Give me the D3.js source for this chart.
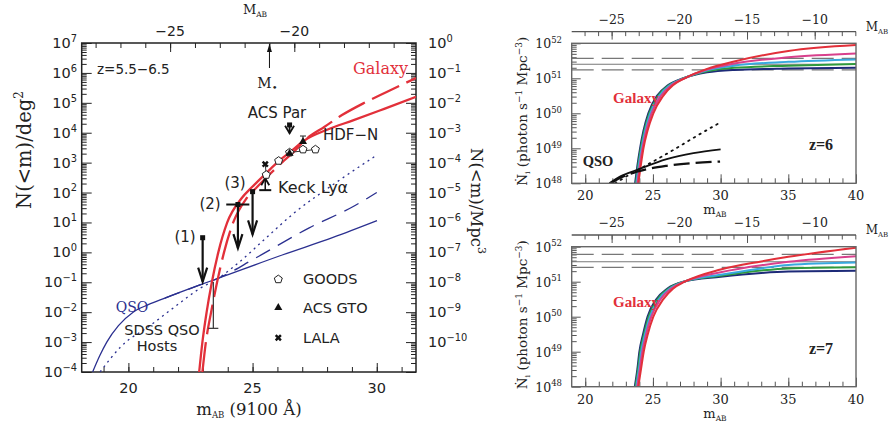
<!DOCTYPE html>
<html>
<head>
<meta charset="utf-8">
<script src="https://cdn.jsdelivr.net/npm/d3@7"></script>
<style>
body { margin: 0; background: #fff; }
text { font-family: "DejaVu Sans", Arial, sans-serif; fill: #222; }
.serif { font-family: "DejaVu Serif", "Liberation Serif", serif; }
.bold { font-family: "Liberation Serif", "Times New Roman", serif; font-weight: bold; }
</style>
</head>
<body>
<div id="chart"></div>
<script>
// ---------- left panel: cumulative counts, [m_AB, log10 N(<m)/deg^2]
var galaxySolid = [[22.85,-4],[22.98,-3],[23.15,-2],[23.36,-1],[23.62,0],[23.98,1],[24.55,1.8],[25.0,2.2],[25.55,2.65],[26.05,3.05],[26.5,3.35],[27.1,3.75],[28.0,4.1],[29.07,4.42],[30.3,4.8],[31.58,5.2]];
var galaxyDashed = [[22.98,-4],[23.12,-3],[23.33,-2],[23.57,-1],[23.85,0],[24.22,1],[24.75,1.8],[25.2,2.2],[25.7,2.62],[26.2,3.02],[26.65,3.35],[27.15,3.78],[27.9,4.2],[28.6,4.59],[29.5,5.0],[30.42,5.37],[31.58,5.83]];
var qsoSolid = [[18.56,-4],[18.85,-3.45],[19.13,-3.0],[19.6,-2.45],[20.19,-2.0],[20.8,-1.75],[21.47,-1.53],[22.88,-1.09],[23.61,-0.87],[26.22,-0.08],[28.24,0.5],[30.01,1.06]];
var qsoDashed = [[21.47,-1.53],[22.88,-1.09],[23.61,-0.87],[25.1,-0.2],[27.28,0.82],[29.09,1.55],[30.0,2.0]];
var qsoDotted = [[18.86,-4],[19.7,-3.15],[20.87,-2.45],[21.9,-1.8],[22.89,-1.2],[23.61,-0.87],[24.5,-0.3],[25.5,0.45],[26.65,1.3],[28.3,2.3],[30.0,3.25]];

var goods = [[25.55,2.59],[26.05,3.06],[26.49,3.34],[27.03,3.44],[27.53,3.44]];
var acsGto = [[26.49,3.31],[27.03,3.70]];
var acsGtoErrTop = 3.89;
var lala = [[25.51,2.95]];
// upper limits: m, start, arrow tip (log N)
var upperLimits = [[22.99,0.49,-0.98],[24.41,1.6,0.14],[25.0,2.03,0.6],[26.49,4.26,3.98]];
var limit2Bar = [23.94,24.87,1.6];
var keckLower = [25.51,2.08,2.48];
var sdssHost = [23.42,-0.99,-2.54];
var mStar = -21.0;
var distModLeft = 46.68;

// ---------- right panels: [m_AB, log10 Ndot_i]
var z6Navy = [[23.68,48],[23.85,48.5],[24.05,49],[24.3,49.5],[24.66,50],[25.3,50.5],[26.1,50.8],[27.25,51.0],[29,51.17],[31,51.24],[35,51.28],[40,51.3]];
var z6Green = [[23.73,48],[23.9,48.5],[24.1,49],[24.36,49.5],[24.73,50],[25.38,50.5],[26.18,50.8],[27.27,51.0],[29,51.2],[31,51.3],[35,51.36],[40,51.41]];
var z6Cyan = [[23.78,48],[23.95,48.5],[24.16,49],[24.42,49.5],[24.8,50],[25.47,50.5],[26.26,50.8],[27.29,51.0],[29,51.23],[31,51.36],[35,51.47],[40,51.54]];
var z6Magenta = [[23.85,48],[24.02,48.5],[24.23,49],[24.5,49.5],[24.9,50],[25.6,50.5],[26.36,50.8],[27.32,51.0],[29,51.25],[31,51.42],[35,51.6],[40,51.71]];
var z6Red = [[23.92,48],[24.1,48.5],[24.3,49],[24.6,49.5],[25.03,50],[25.76,50.5],[26.48,50.8],[27.35,51.0],[29,51.27],[31,51.48],[35,51.78],[40,51.95]];
var z6QsoSolid = [[21.78,48],[22.6,48.2],[23.8,48.38],[26.02,48.69],[27.99,48.86],[30.0,48.97]];
var z6QsoDashed = [[21.9,48],[22.7,48.18],[23.8,48.33],[26.02,48.5],[27.99,48.58],[29.96,48.62]];
var z6QsoDotted = [[22.2,48],[23.5,48.3],[25.0,48.62],[26.5,48.95],[28.0,49.3],[29.84,49.71]];
var z6Ref = [51.57,51.4,51.24];

var z7Navy = [[23.66,48],[23.85,48.5],[24.0,49],[24.27,49.5],[24.6,50],[25.25,50.5],[26.05,50.8],[27.25,51.0],[30,51.14],[33,51.25],[35,51.29],[40,51.31]];
var z7Green = [[23.71,48],[23.9,48.5],[24.06,49],[24.34,49.5],[24.68,50],[25.34,50.5],[26.14,50.8],[27.27,51.0],[30,51.17],[33,51.32],[35,51.38],[40,51.41]];
var z7Cyan = [[23.77,48],[23.96,48.5],[24.13,49],[24.41,49.5],[24.77,50],[25.44,50.5],[26.23,50.8],[27.29,51.0],[30,51.2],[33,51.38],[35,51.48],[40,51.55]];
var z7Magenta = [[23.84,48],[24.03,48.5],[24.22,49],[24.5,49.5],[24.88,50],[25.57,50.5],[26.34,50.8],[27.32,51.0],[30,51.27],[33,51.47],[35,51.57],[40,51.73]];
var z7Red = [[23.92,48],[24.12,48.5],[24.32,49],[24.62,49.5],[25.03,50],[25.77,50.5],[26.48,50.8],[27.35,51.0],[30,51.35],[33,51.58],[35,51.71],[40,51.97]];
var z7Ref = [51.78,51.57,51.41];

var distModRight = 46.95;

var galaxyColors = ["#1d2a78", "#2f9a3c", "#38a9de", "#d8408c", "#e2303a"];
var red = "#e2303a", blue = "#2b3090";

var svg = d3.select("#chart").append("svg")
    .attr("width", 891).attr("height", 425);

function sup(t, base, exp, size) {
    t.append("tspan").text(base);
    t.append("tspan").attr("dy", -size * 0.42).attr("font-size", size * 0.68).text(exp);
}

// ================= LEFT PANEL =================
var L = { x0: 81.7, x1: 416, y0: 43, y1: 372 };
var x = d3.scaleLinear().domain([18.12, 31.58]).range([L.x0, L.x1]);
var y = d3.scaleLog().domain([1e-4, 1e7]).range([L.y1, L.y0]);
var yR = d3.scaleLog().domain([1e-11, 1]).range([L.y1, L.y0]);
var xM = d3.scaleLinear().domain([18.12 - distModLeft, 31.58 - distModLeft]).range([L.x0, L.x1]);

svg.append("clipPath").attr("id", "clipL").append("rect")
    .attr("x", L.x0).attr("y", L.y0).attr("width", L.x1 - L.x0).attr("height", L.y1 - L.y0);

var decadesL = d3.range(-4, 8);
var minorL = [];
for (var k = -4; k < 7; k++) for (var j = 2; j < 10; j++) minorL.push(j * Math.pow(10, k));

function tickGroup(axis, tr) {
    var g = svg.append("g").attr("transform", tr).call(axis);
    g.select(".domain").remove();
    g.selectAll("line").attr("stroke", "#222").attr("stroke-width", 1);
    g.selectAll("text").remove();
    return g;
}
tickGroup(d3.axisLeft(y).tickValues(decadesL.map(function(d){return Math.pow(10,d);})).tickSize(-10), "translate(" + L.x0 + ",0)");
tickGroup(d3.axisLeft(y).tickValues(minorL).tickSize(-5), "translate(" + L.x0 + ",0)");
tickGroup(d3.axisRight(y).tickValues(decadesL.map(function(d){return Math.pow(10,d);})).tickSize(-10), "translate(" + L.x1 + ",0)");
tickGroup(d3.axisRight(y).tickValues(minorL).tickSize(-5), "translate(" + L.x1 + ",0)");
tickGroup(d3.axisBottom(x).tickValues([20, 25, 30]).tickSize(-9), "translate(0," + L.y1 + ")");
tickGroup(d3.axisBottom(x).tickValues(d3.range(19, 32)).tickSize(-5), "translate(0," + L.y1 + ")");
tickGroup(d3.axisTop(xM).tickValues([-25, -20]).tickSize(-9), "translate(0," + L.y0 + ")");
tickGroup(d3.axisTop(xM).tickValues(d3.range(-28, -15)).tickSize(-5), "translate(0," + L.y0 + ")");

svg.append("rect").attr("x", L.x0).attr("y", L.y0)
    .attr("width", L.x1 - L.x0).attr("height", L.y1 - L.y0)
    .attr("fill", "none").attr("stroke", "#222").attr("stroke-width", 1.5);

// left tick labels
decadesL.forEach(function(d) {
    var t = svg.append("text").attr("x", 77).attr("y", y(Math.pow(10, d)) + 5)
        .attr("text-anchor", "end").attr("font-size", 14.5);
    sup(t, "10", d < 0 ? "\u2212" + (-d) : "" + d, 14.5);
});
d3.range(-10, 1).forEach(function(d) {
    var t = svg.append("text").attr("x", 428).attr("y", yR(Math.pow(10, d)) + 5)
        .attr("font-size", 14.5);
    sup(t, "10", d < 0 ? "\u2212" + (-d) : "" + d, 14.5);
});
[20, 25, 30].forEach(function(d) {
    svg.append("text").attr("x", x(d)).attr("y", 393).attr("text-anchor", "middle")
        .attr("font-size", 14.5).text(d);
});
[-25, -20].forEach(function(d) {
    svg.append("text").attr("x", xM(d)).attr("y", 36).attr("text-anchor", "middle")
        .attr("font-size", 14).text("\u2212" + (-d));
});

// axis titles
var tt = svg.append("text").attr("class", "serif").attr("x", 255).attr("y", 14)
    .attr("text-anchor", "middle").attr("font-size", 13);
tt.append("tspan").text("M");
tt.append("tspan").attr("dy", 3).attr("font-size", 7.5).text("AB");

var bt = svg.append("text").attr("class", "serif").attr("x", 249).attr("y", 415)
    .attr("text-anchor", "middle").attr("font-size", 16.5);
bt.append("tspan").text("m");
bt.append("tspan").attr("dy", 3).attr("font-size", 8.5).text("AB");
bt.append("tspan").attr("dy", -3).text(" (9100 \u00c5)");

var lt = svg.append("text").attr("class", "serif")
    .attr("transform", "translate(31,150) rotate(-90)")
    .attr("text-anchor", "middle").attr("font-size", 19.5);
lt.append("tspan").text("N(<m)/deg");
lt.append("tspan").attr("dy", -8).attr("font-size", 12).text("2");

var rt = svg.append("text").attr("class", "serif")
    .attr("transform", "translate(471,201) rotate(90)")
    .attr("text-anchor", "middle").attr("font-size", 16.5);
rt.append("tspan").text("N(<m)/Mpc");
rt.append("tspan").attr("dy", -7).attr("font-size", 11).text("3");

// curves
var plotL = svg.append("g").attr("clip-path", "url(#clipL)");
var lineL = d3.line()
    .x(function(d) { return x(d[0]); })
    .y(function(d) { return y(Math.pow(10, d[1])); })
    .curve(d3.curveMonotoneX);

plotL.append("path").datum(qsoDotted).attr("d", lineL).attr("fill", "none")
    .attr("stroke", blue).attr("stroke-width", 1.3).attr("stroke-dasharray", "2,4");
plotL.append("path").datum(qsoDashed).attr("d", lineL).attr("fill", "none")
    .attr("stroke", blue).attr("stroke-width", 1.3).attr("stroke-dasharray", "16,9");
plotL.append("path").datum(qsoSolid).attr("d", lineL).attr("fill", "none")
    .attr("stroke", blue).attr("stroke-width", 1.3);
plotL.append("path").datum(galaxySolid).attr("d", lineL).attr("fill", "none")
    .attr("stroke", red).attr("stroke-width", 2.3);
plotL.append("path").datum(galaxyDashed).attr("d", lineL).attr("fill", "none")
    .attr("stroke", red).attr("stroke-width", 2.3).attr("stroke-dasharray", "30,8");

function px(m) { return x(m); }
function py(l) { return y(Math.pow(10, l)); }

// arrows (upper limits)
function downArrow(m, from, to, w) {
    var X = px(m), Y0 = py(from), Y1 = py(to);
    svg.append("line").attr("x1", X).attr("x2", X).attr("y1", Y0).attr("y2", Y1)
        .attr("stroke", "#111").attr("stroke-width", w);
    var h = Math.min(14, (Y1 - Y0) * 0.9);
    svg.append("path").attr("d", "M" + (X - 4.5) + "," + (Y1 - h) + "L" + X + "," + Y1 + "L" + (X + 4.5) + "," + (Y1 - h))
        .attr("fill", "none").attr("stroke", "#111").attr("stroke-width", w);
    svg.append("rect").attr("x", X - 2.5).attr("y", Y0 - 2.5).attr("width", 5).attr("height", 5)
        .attr("fill", "#111");
}
upperLimits.forEach(function(u, i) { downArrow(u[0], u[1], u[2], i === 3 ? 1.8 : 2.2); });
svg.append("line").attr("x1", px(limit2Bar[0])).attr("x2", px(limit2Bar[1]))
    .attr("y1", py(limit2Bar[2])).attr("y2", py(limit2Bar[2]))
    .attr("stroke", "#111").attr("stroke-width", 2);

// Keck lower limit
(function() {
    var X = px(keckLower[0]), Y0 = py(keckLower[1]), Y1 = py(keckLower[2]);
    svg.append("line").attr("x1", X - 6).attr("x2", X + 6).attr("y1", Y0).attr("y2", Y0)
        .attr("stroke", "#111").attr("stroke-width", 2);
    svg.append("line").attr("x1", X).attr("x2", X).attr("y1", Y0).attr("y2", Y1)
        .attr("stroke", "#111").attr("stroke-width", 1.5);
    svg.append("path").attr("d", "M" + (X - 4) + "," + (Y1 + 7) + "L" + X + "," + Y1 + "L" + (X + 4) + "," + (Y1 + 7))
        .attr("fill", "none").attr("stroke", "#111").attr("stroke-width", 1.8);
})();

// SDSS host error bar
svg.append("line").attr("x1", px(sdssHost[0])).attr("x2", px(sdssHost[0]))
    .attr("y1", py(sdssHost[1])).attr("y2", py(sdssHost[2])).attr("stroke", "#333").attr("stroke-width", 1.2);
svg.append("line").attr("x1", px(sdssHost[0]) - 5).attr("x2", px(sdssHost[0]) + 5)
    .attr("y1", py(sdssHost[2])).attr("y2", py(sdssHost[2])).attr("stroke", "#333").attr("stroke-width", 1.2);

// GOODS connector + points
svg.append("line").attr("x1", px(goods[2][0])).attr("x2", px(goods[4][0]))
    .attr("y1", py(goods[2][1])).attr("y2", py(goods[4][1])).attr("stroke", "#333").attr("stroke-width", 1);
svg.append("line").attr("x1", px(goods[0][0])).attr("x2", px(lala[0][0]))
    .attr("y1", py(goods[0][1])).attr("y2", py(lala[0][1])).attr("stroke", "#333").attr("stroke-width", 1);

function pentagon(cx, cy, r) {
    var p = [];
    for (var i = 0; i < 5; i++) {
        var a = -Math.PI / 2 + i * 2 * Math.PI / 5;
        p.push([cx + r * Math.cos(a), cy + r * Math.sin(a)]);
    }
    return "M" + p.join("L") + "Z";
}
svg.selectAll(".goods").data(goods).enter().append("path")
    .attr("d", function(d) { return pentagon(px(d[0]), py(d[1]), 4.2); })
    .attr("fill", "#fff").attr("stroke", "#222").attr("stroke-width", 1);

// ACS GTO
svg.append("line").attr("x1", px(acsGto[1][0])).attr("x2", px(acsGto[1][0]))
    .attr("y1", py(acsGto[1][1])).attr("y2", py(acsGtoErrTop)).attr("stroke", "#222").attr("stroke-width", 1);
svg.append("line").attr("x1", px(acsGto[1][0]) - 3).attr("x2", px(acsGto[1][0]) + 3)
    .attr("y1", py(acsGtoErrTop)).attr("y2", py(acsGtoErrTop)).attr("stroke", "#222").attr("stroke-width", 1);
svg.selectAll(".gto").data(acsGto).enter().append("path")
    .attr("transform", function(d) { return "translate(" + px(d[0]) + "," + py(d[1]) + ")"; })
    .attr("d", d3.symbol().type(d3.symbolTriangle).size(28))
    .attr("fill", "#111");

// LALA
svg.selectAll(".lala").data(lala).enter().append("path")
    .attr("transform", function(d) { return "translate(" + px(d[0]) + "," + py(d[1]) + ") rotate(45)"; })
    .attr("d", d3.symbol().type(d3.symbolCross).size(30))
    .attr("fill", "#111");

// M* arrow
(function() {
    var X = xM(mStar);
    svg.append("line").attr("x1", X).attr("x2", X).attr("y1", L.y0 + 1).attr("y2", 68)
        .attr("stroke", "#111").attr("stroke-width", 1);
    svg.append("path").attr("d", "M" + (X - 2.5) + "," + (L.y0 + 9) + "L" + X + "," + (L.y0 + 1) + "L" + (X + 2.5) + "," + (L.y0 + 9) + "Z")
        .attr("fill", "#111");
    var t = svg.append("text").attr("class", "serif").attr("x", X - 2).attr("y", 88)
        .attr("text-anchor", "middle").attr("font-size", 14);
    t.append("tspan").text("M");
    t.append("tspan").attr("dy", 3).attr("font-size", 10).text("\u2022");
})();

// annotations
function label(txt, xx, yy, anchor, size, color, cls) {
    return svg.append("text").attr("x", xx).attr("y", yy).attr("text-anchor", anchor || "start")
        .attr("font-size", size || 15).attr("class", cls || null)
        .style("fill", color || "#222").text(txt);
}
label("z=5.5\u22126.5", 97, 74, "start", 13.5);
label("Galaxy", 408, 74, "end", 16, red, "serif");
label("ACS Par", 277, 118, "middle", 15);
label("HDF\u2212N", 323, 140, "start", 15);
label("(3)", 235, 188, "middle", 15);
label("Keck Ly\u03b1", 278, 193, "start", 16);
label("(2)", 210, 209, "middle", 15);
label("(1)", 185, 242, "middle", 15);
label("QSO", 132, 312, "middle", 14, blue, "serif");
label("SDSS QSO", 162, 335, "middle", 14.5);
label("Hosts", 157, 351, "middle", 14.5);

// legend
svg.append("path").attr("d", pentagon(278.3, 279.3, 4.2)).attr("fill", "#fff").attr("stroke", "#222");
svg.append("path").attr("transform", "translate(278.3,307.7)").attr("d", d3.symbol().type(d3.symbolTriangle).size(28)).attr("fill", "#111");
svg.append("path").attr("transform", "translate(278.3,337.7) rotate(45)").attr("d", d3.symbol().type(d3.symbolCross).size(30)).attr("fill", "#111");
label("GOODS", 303, 284, "start", 14.5);
label("ACS GTO", 303, 313, "start", 14.5);
label("LALA", 303, 343, "start", 14.5);

// ================= RIGHT PANELS =================
var xr = d3.scaleLinear().domain([19, 40]).range([571.7, 856]);
var xrM = d3.scaleLinear().domain([19 - distModRight, 40 - distModRight]).range([571.7, 856]);

function drawPanel(top, curves, ref, zLabel, qso, galLabelY) {
    var P = { x0: 571.7, x1: 856, y0: top, y1: top + 140 };
    var yr = d3.scaleLog().domain([1e48, 1e52]).range([P.y1, P.y0]);
    var id = "clip" + Math.round(top);
    svg.append("clipPath").attr("id", id).append("rect")
        .attr("x", P.x0).attr("y", P.y0).attr("width", P.x1 - P.x0).attr("height", P.y1 - P.y0);

    var minor = [];
    for (var k = 48; k < 52; k++) for (var j = 2; j < 10; j++) minor.push(j * Math.pow(10, k));
    function tg(axis, tr) {
        var g = svg.append("g").attr("transform", tr).call(axis);
        g.select(".domain").remove();
        g.selectAll("line").attr("stroke", "#555").attr("stroke-width", 1);
        g.selectAll("text").remove();
    }
    tg(d3.axisLeft(yr).tickValues([1e48, 1e49, 1e50, 1e51, 1e52]).tickSize(-9), "translate(" + P.x0 + ",0)");
    tg(d3.axisLeft(yr).tickValues(minor).tickSize(-5), "translate(" + P.x0 + ",0)");
    tg(d3.axisBottom(xr).tickValues([20, 25, 30, 35, 40]).tickSize(-9), "translate(0," + P.y1 + ")");
    tg(d3.axisBottom(xr).tickValues(d3.range(20, 40)).tickSize(-5), "translate(0," + P.y1 + ")");
    var axY = P.y0 - 11.7;
    tg(d3.axisBottom(xrM).tickValues([-25, -20, -15, -10]).tickSize(8), "translate(0," + axY + ")");
    tg(d3.axisBottom(xrM).tickValues(d3.range(-27, -6)).tickSize(4.5), "translate(0," + axY + ")");
    svg.append("line").attr("x1", P.x0).attr("x2", P.x1).attr("y1", axY).attr("y2", axY)
        .attr("stroke", "#555").attr("stroke-width", 1.3);

    var g = svg.append("g").attr("clip-path", "url(#" + id + ")");
    var ln = d3.line().x(function(d) { return xr(d[0]); })
        .y(function(d) { return yr(Math.pow(10, d[1])); }).curve(d3.curveMonotoneX);

    var refStyle = ["22,8", null, "22,8"];
    ref.forEach(function(v, i) {
        g.append("line").attr("x1", P.x0).attr("x2", P.x1)
            .attr("y1", yr(Math.pow(10, v))).attr("y2", yr(Math.pow(10, v)))
            .attr("stroke", "#777").attr("stroke-width", 1.1)
            .attr("stroke-dasharray", refStyle[i]);
    });
    curves.forEach(function(c, i) {
        g.append("path").datum(c).attr("d", ln).attr("fill", "none")
            .attr("stroke", galaxyColors[i]).attr("stroke-width", 2);
    });
    if (qso) {
        g.append("path").datum(qso[2]).attr("d", ln).attr("fill", "none")
            .attr("stroke", "#111").attr("stroke-width", 1.8).attr("stroke-dasharray", "1.5,5").attr("stroke-linecap", "round");
        g.append("path").datum(qso[1]).attr("d", ln).attr("fill", "none")
            .attr("stroke", "#111").attr("stroke-width", 2.3).attr("stroke-dasharray", "16,6");
        g.append("path").datum(qso[0]).attr("d", ln).attr("fill", "none")
            .attr("stroke", "#111").attr("stroke-width", 1.8);
    }

    svg.append("rect").attr("x", P.x0).attr("y", P.y0).attr("width", P.x1 - P.x0).attr("height", P.y1 - P.y0)
        .attr("fill", "none").attr("stroke", "#666").attr("stroke-width", 1.4);

    // labels
    [48, 49, 50, 51, 52].forEach(function(d) {
        var t = svg.append("text").attr("class", "serif").attr("x", 562).attr("y", yr(Math.pow(10, d)) + 5)
            .attr("text-anchor", "end").attr("font-size", 12.5);
        sup(t, "10", "" + d, 12.5);
    });
    [20, 25, 30, 35, 40].forEach(function(d) {
        svg.append("text").attr("class", "serif").attr("x", xr(d)).attr("y", P.y1 + 17)
            .attr("text-anchor", "middle").attr("font-size", 13).text(d);
    });
    [-25, -20, -15, -10].forEach(function(d) {
        svg.append("text").attr("class", "serif").attr("x", xrM(d)).attr("y", axY - 8)
            .attr("text-anchor", "middle").attr("font-size", 12.5).text("\u2212" + (-d));
    });
    var ma = svg.append("text").attr("class", "serif").attr("x", 877).attr("y", axY - 1)
        .attr("text-anchor", "middle").attr("font-size", 12);
    ma.append("tspan").text("M");
    ma.append("tspan").attr("dy", 3).attr("font-size", 7).text("AB");
    var mb = svg.append("text").attr("class", "serif").attr("x", 715).attr("y", P.y1 + 31)
        .attr("text-anchor", "middle").attr("font-size", 13);
    mb.append("tspan").text("m");
    mb.append("tspan").attr("dy", 3).attr("font-size", 7.5).text("AB");

    var yl = svg.append("text").attr("class", "serif")
        .attr("transform", "translate(527," + (P.y0 + 68) + ") rotate(-90)")
        .attr("text-anchor", "middle").attr("font-size", 13.5);
    yl.append("tspan").text("\u1e44");
    yl.append("tspan").attr("dy", 3).attr("font-size", 8).text("i");
    yl.append("tspan").attr("dy", -3).text(" (photon s");
    yl.append("tspan").attr("dy", -5).attr("font-size", 9).text("\u22121");
    yl.append("tspan").attr("dy", 5).text(" Mpc");
    yl.append("tspan").attr("dy", -5).attr("font-size", 9).text("\u22123");
    yl.append("tspan").attr("dy", 5).text(")");

    svg.append("text").attr("class", "bold").attr("x", 636).attr("y", galLabelY)
        .attr("text-anchor", "middle").attr("font-size", 15)
        .style("fill", red).text("Galaxy");
    svg.append("text").attr("class", "bold").attr("x", 821).attr("y", P.y0 + 107)
        .attr("text-anchor", "middle").attr("font-size", 16)
        .text(zLabel);
    if (qso) {
        svg.append("text").attr("class", "bold").attr("x", 598).attr("y", P.y0 + 123)
            .attr("text-anchor", "middle").attr("font-size", 14.5)
            .text("QSO");
    }
}

drawPanel(43.3, [z6Navy, z6Green, z6Cyan, z6Magenta, z6Red], z6Ref, "z=6",
    [z6QsoSolid, z6QsoDashed, z6QsoDotted], 103);
drawPanel(246.7, [z7Navy, z7Green, z7Cyan, z7Magenta, z7Red], z7Ref, "z=7", null, 307);
</script>
</body>
</html>
